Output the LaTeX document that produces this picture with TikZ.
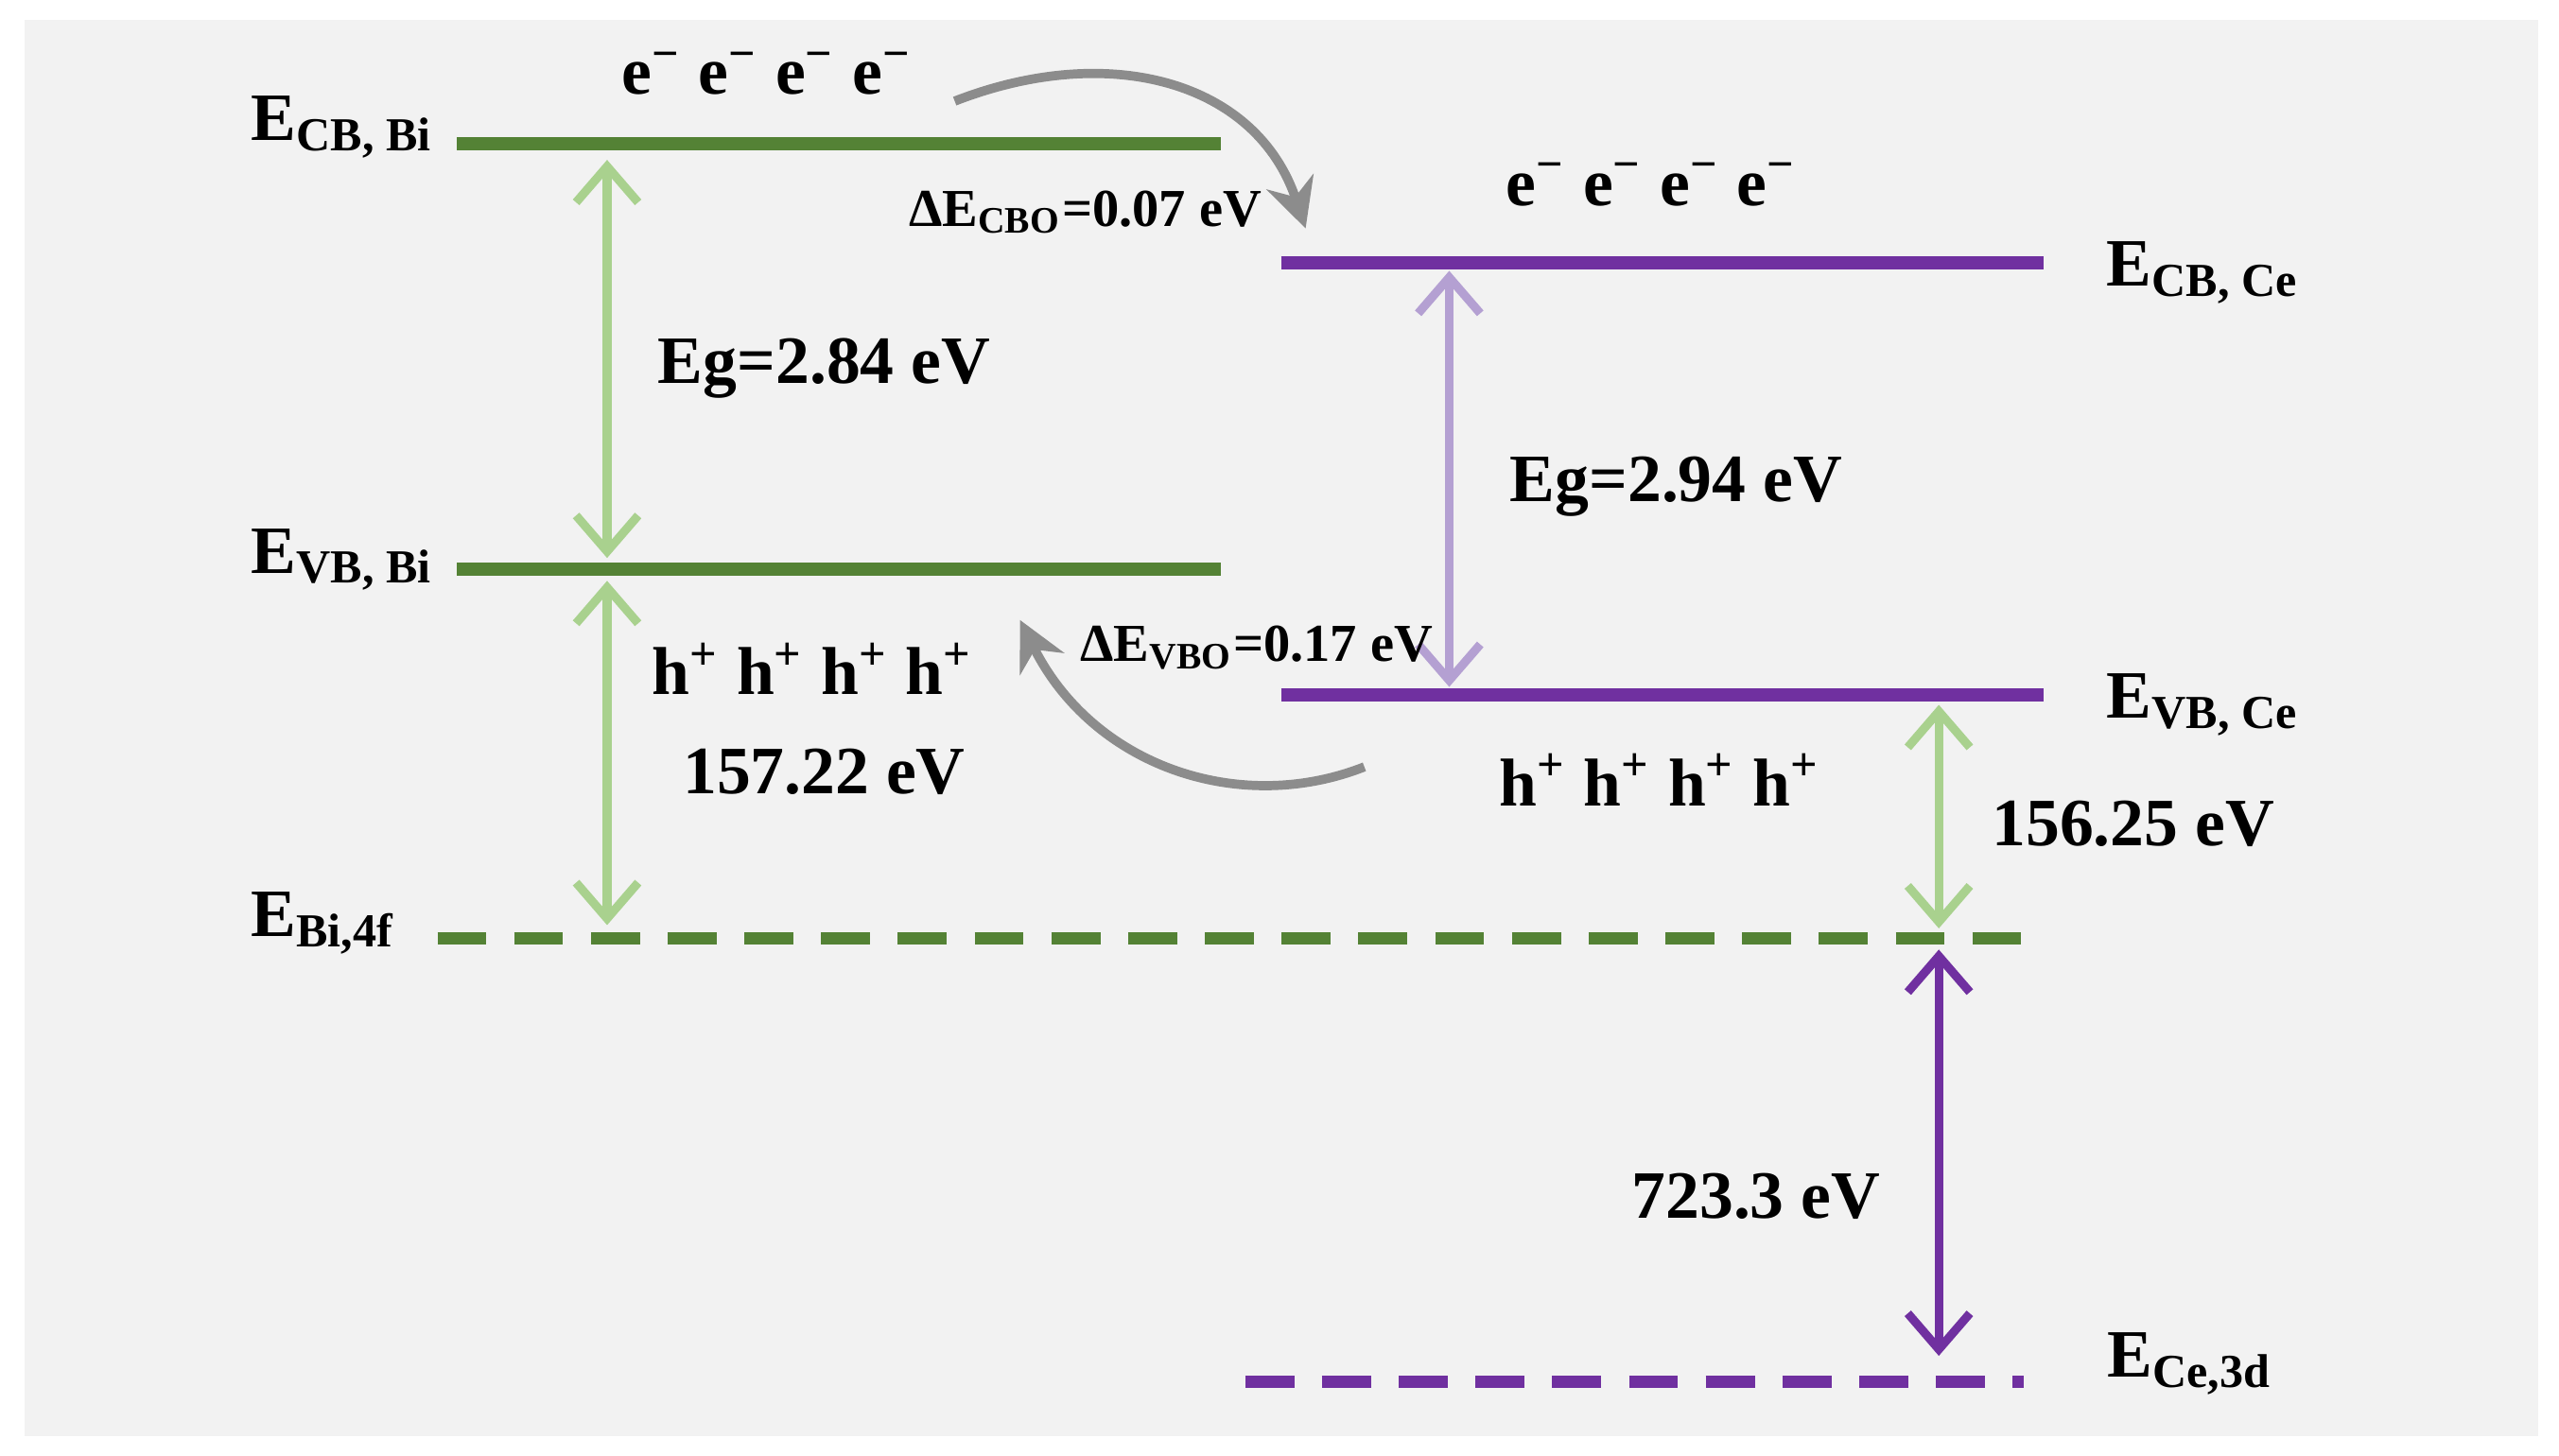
\documentclass[tikz,border=0pt]{standalone}
\usepackage{fontspec}
\setmainfont{Liberation Serif}
\usetikzlibrary{arrows.meta}
\definecolor{gr}{HTML}{548235}
\definecolor{lg}{HTML}{A9D18E}
\definecolor{pu}{HTML}{7030A0}
\definecolor{lp}{HTML}{B4A0D2}
\definecolor{bg}{HTML}{F2F2F2}
\tikzset{
 lvl/.style={line width=2.3pt},
 dsh/.style={line width=2.1pt,dash pattern=on 0.3cm off 0.17cm},
 dbl/.style={line width=1.5pt,{Straight Barb[length=2.2mm,width=3.8mm]}-{Straight Barb[length=2.2mm,width=3.8mm]}},
 cur/.style={line width=1.6pt,color=gray!90,-{Stealth[length=3mm,width=3mm]}},
 txt/.style={font=\bfseries\fontsize{9.3}{11}\selectfont,inner sep=0pt},
 big/.style={font=\bfseries\fontsize{11.8}{14}\selectfont,inner sep=0pt},
}
\begin{document}
\begin{tikzpicture}[x=0.01cm,y=-0.01cm]
\useasboundingbox (0,0) rectangle (1568,892);
\fill[bg] (15,12) rectangle (1555,880);
\coordinate (cb1a) at (280,88); \coordinate (cb1b) at (748,88);
\coordinate (vb1a) at (280,349); \coordinate (vb1b) at (748,349);
\coordinate (cb2a) at (785,161); \coordinate (cb2b) at (1252,161);
\coordinate (vb2a) at (785,426); \coordinate (vb2b) at (1252,426);
\coordinate (bi4a) at (268,575); \coordinate (bi4b) at (1240,575);
\coordinate (ce3a) at (763,847); \coordinate (ce3b) at (1240,847);
\draw[lvl,gr] (cb1a) -- (cb1b);
\draw[lvl,gr] (vb1a) -- (vb1b);
\draw[lvl,pu] (cb2a) -- (cb2b);
\draw[lvl,pu] (vb2a) -- (vb2b);
\draw[dsh,gr] (bi4a) -- (bi4b);
\draw[dsh,pu] (ce3a) -- (ce3b);
\coordinate (a1) at (372,98); \coordinate (a2) at (372,342);
\coordinate (a3) at (372,356); \coordinate (a4) at (372,567);
\coordinate (a5) at (1188,432); \coordinate (a6) at (1188,569);
\coordinate (a7) at (888,166); \coordinate (a8) at (888,421);
\coordinate (a9) at (1188,582); \coordinate (a10) at (1188,831);
\draw[dbl,lg] (a1) -- (a2);
\draw[dbl,lg] (a3) -- (a4);
\draw[dbl,lg] (a5) -- (a6);
\draw[dbl,lp] (a7) -- (a8);
\draw[dbl,pu] (a9) -- (a10);
\coordinate (c1) at (585,62); \coordinate (c2) at (800,140);
\coordinate (c3) at (836,470); \coordinate (c4) at (625,380);
\draw[cur] (c1) .. controls (680,25) and (770,50) .. (c2);
\draw[cur] (c3) .. controls (760,500) and (670,470) .. (c4);
\node[big] (l1) at (210,78) {E\textsubscript{CB, Bi}};
\node[big] (l2) at (210,343) {E\textsubscript{VB, Bi}};
\node[big] (l3) at (198,566) {E\textsubscript{Bi,4f}};
\node[big] (l4) at (1350,167) {E\textsubscript{CB, Ce}};
\node[big] (l5) at (1350,432) {E\textsubscript{VB, Ce}};
\node[big] (l6) at (1342,836) {E\textsubscript{Ce,3d}};
\node[big] (e1) at (470,45) {e\textsuperscript{−} e\textsuperscript{−} e\textsuperscript{−} e\textsuperscript{−}};
\node[big] (e2) at (1012,113) {e\textsuperscript{−} e\textsuperscript{−} e\textsuperscript{−} e\textsuperscript{−}};
\node[big] (h1) at (498,410) {h\textsuperscript{+} h\textsuperscript{+} h\textsuperscript{+} h\textsuperscript{+}};
\node[big] (h2) at (1017,478) {h\textsuperscript{+} h\textsuperscript{+} h\textsuperscript{+} h\textsuperscript{+}};
\node[txt] (d1) at (665,130) {ΔE\textsubscript{CBO}=0.07 eV};
\node[txt] (d2) at (770,397) {ΔE\textsubscript{VBO}=0.17 eV};
\node[big] (g1) at (505,226) {Eg=2.84 eV};
\node[big] (g2) at (1027,298) {Eg=2.94 eV};
\node[big] (n1) at (505,473) {157.22 eV};
\node[big] (n2) at (1307,505) {156.25 eV};
\node[big] (n3) at (1076,733) {723.3 eV};
\end{tikzpicture}
\end{document}
